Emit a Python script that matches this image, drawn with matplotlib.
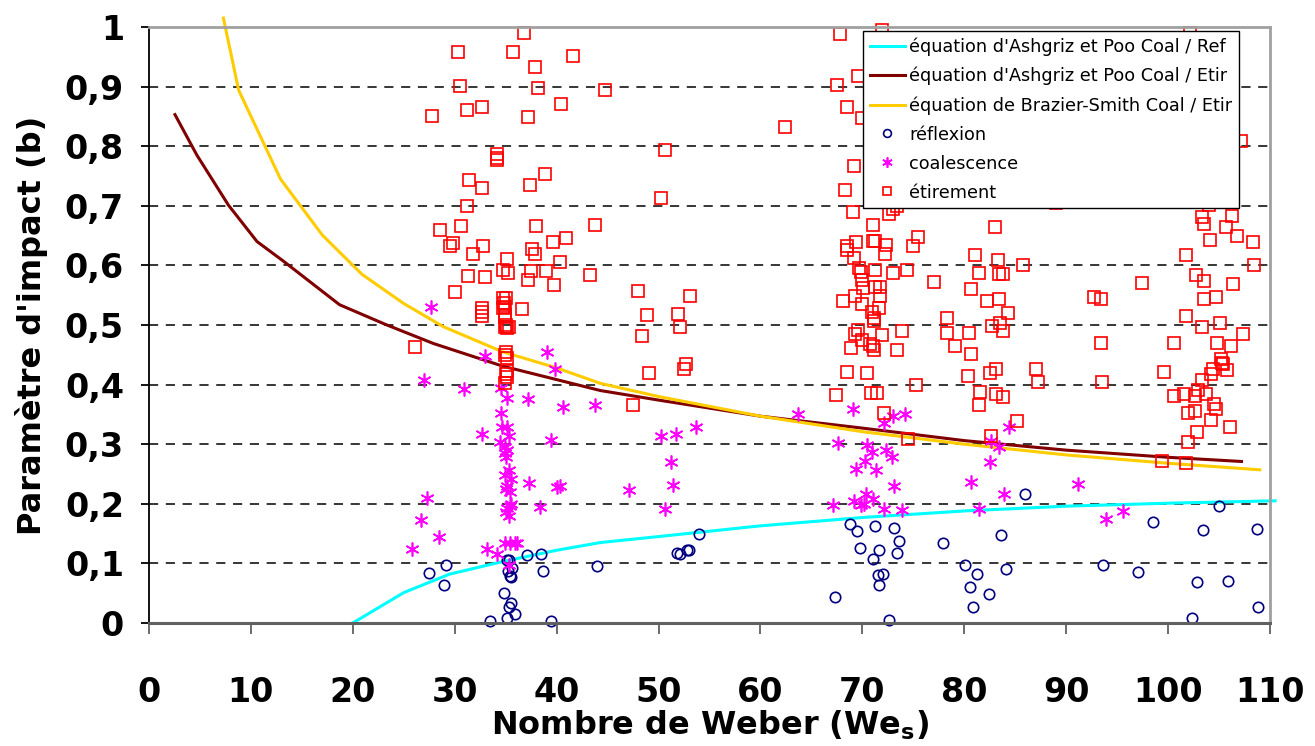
import numpy as np
import matplotlib.pyplot as plt
from matplotlib.ticker import FuncFormatter

# courbes
ref_we = [20, 25, 29.5, 34.7, 40, 44.3, 50, 60, 70, 80, 90, 100, 110.5]
ref_b = [0, 0.051, 0.082, 0.103, 0.122, 0.135, 0.145, 0.163, 0.177, 0.188, 0.196, 0.201, 0.205]

etir_we = [2.55, 4.7, 7.8, 10.6, 13.2, 18.7, 23.2, 27.9, 34.7, 44.3, 50, 60, 70, 80, 90, 100, 107.2]
etir_b = [0.853, 0.785, 0.701, 0.64, 0.607, 0.534, 0.501, 0.469, 0.431, 0.39, 0.374, 0.347, 0.327,
          0.306, 0.29, 0.278, 0.271]

brazier_we = [7.3, 8.8, 12.9, 17.0, 20.9, 25.0, 28.9, 34.7, 40, 44.3, 50, 60, 70, 80, 90, 100, 109]
brazier_b = [1.015, 0.894, 0.745, 0.651, 0.585, 0.536, 0.497, 0.455, 0.428, 0.402, 0.38, 0.347, 0.321,
             0.300, 0.282, 0.268, 0.257]

# points experimentaux (We, b)
reflexion = np.array([
    (27.5, 0.084), (29.1, 0.098), (28.9, 0.063), (33.5, 0.003), (34.8, 0.05), (35.1, 0.008), (35.3, 0.027),
    (35.5, 0.034), (35.9, 0.015), (35.1, 0.106), (35.3, 0.105), (35.6, 0.093), (35.2, 0.088), (35.4, 0.079),
    (35.5, 0.077), (37.1, 0.114), (38.5, 0.116), (38.7, 0.087), (39.4, 0.003), (44.0, 0.096),
    (51.8, 0.117), (52.1, 0.116), (52.8, 0.122), (53.0, 0.123), (54.0, 0.149),
    (67.3, 0.044), (68.8, 0.166), (69.5, 0.154), (69.8, 0.126), (71.0, 0.107), (71.2, 0.162), (71.5, 0.08),
    (71.6, 0.123), (71.6, 0.064), (72.0, 0.083), (72.6, 0.005), (73.1, 0.16), (73.4, 0.118), (73.6, 0.137),
    (77.9, 0.135), (80.1, 0.097), (80.6, 0.061), (80.9, 0.027), (81.2, 0.082), (82.4, 0.048), (83.6, 0.147),
    (84.1, 0.091), (86.0, 0.217), (93.6, 0.097), (97.0, 0.086), (98.5, 0.169), (102.3, 0.008), (102.8, 0.069),
    (103.4, 0.156), (105.0, 0.197), (105.9, 0.07), (108.7, 0.157), (108.8, 0.027)])

coalescence = np.array([
    (25.8, 0.124), (26.7, 0.173), (27.0, 0.407), (27.3, 0.21), (27.7, 0.531), (28.5, 0.144), (30.9, 0.393),
    (32.7, 0.317), (33.0, 0.448), (33.2, 0.124), (34.1, 0.115),
    (34.4, 0.304), (34.5, 0.394), (34.5, 0.353), (34.6, 0.329), (35.1, 0.329), (35.1, 0.378), (35.3, 0.313),
    (34.9, 0.296), (35.1, 0.29), (34.9, 0.285), (35.0, 0.278), (35.3, 0.257), (34.9, 0.248), (35.5, 0.241),
    (35.1, 0.23), (35.0, 0.224), (35.4, 0.219), (35.5, 0.2), (35.4, 0.197), (35.1, 0.193), (35.0, 0.187),
    (35.3, 0.18), (34.9, 0.135), (35.4, 0.135), (35.9, 0.135), (36.1, 0.135), (35.3, 0.097),
    (37.2, 0.375), (37.3, 0.235), (38.4, 0.195), (39.1, 0.454), (39.4, 0.307), (39.8, 0.427), (40.0, 0.228),
    (40.3, 0.23), (40.6, 0.363), (43.8, 0.365),
    (47.1, 0.223), (50.2, 0.314), (50.6, 0.191), (51.2, 0.27), (51.4, 0.232), (51.7, 0.317), (53.7, 0.329),
    (63.7, 0.35),
    (67.1, 0.198), (67.6, 0.302), (69.1, 0.359), (69.2, 0.204), (69.4, 0.258), (69.9, 0.198), (70.2, 0.199),
    (70.3, 0.272), (70.4, 0.216), (70.5, 0.299), (70.9, 0.287), (71.0, 0.208), (71.3, 0.256), (72.1, 0.336),
    (72.1, 0.191), (72.3, 0.29), (72.9, 0.279), (73.0, 0.348), (73.1, 0.23), (73.9, 0.19), (74.2, 0.35),
    (80.7, 0.237), (81.4, 0.191), (82.5, 0.27), (82.6, 0.306), (83.4, 0.295), (83.9, 0.216), (84.4, 0.329),
    (91.2, 0.234), (93.9, 0.174), (95.6, 0.188)])

etirement = np.array([
    (26.1, 0.463), (27.8, 0.851), (28.6, 0.659), (29.5, 0.633), (29.8, 0.637), (30.0, 0.555), (30.3, 0.958),
    (30.5, 0.901), (30.6, 0.666), (31.2, 0.86), (31.2, 0.7), (31.4, 0.744), (31.3, 0.583), (31.8, 0.619),
    (32.7, 0.866), (32.7, 0.73), (32.8, 0.633), (33.0, 0.581), (32.7, 0.528), (32.7, 0.521), (32.7, 0.515),
    (34.1, 0.787), (34.1, 0.781), (34.1, 0.777),
    (35.1, 0.611), (34.7, 0.592), (35.2, 0.588), (34.7, 0.545), (35.0, 0.545), (34.8, 0.537), (34.9, 0.531),
    (34.7, 0.528), (34.9, 0.517), (34.9, 0.514), (35.0, 0.5), (35.3, 0.497), (34.9, 0.497), (35.1, 0.495),
    (35.0, 0.455), (34.9, 0.449), (35.1, 0.444), (35.1, 0.423), (35.0, 0.417), (35.1, 0.413), (34.9, 0.403),
    (35.7, 0.958), (36.6, 0.526), (36.8, 0.99), (37.2, 0.849), (37.2, 0.575), (37.4, 0.735), (37.5, 0.59),
    (37.6, 0.627), (37.9, 0.933), (37.9, 0.619), (38.0, 0.666), (38.2, 0.898), (38.9, 0.753), (39.0, 0.591),
    (39.6, 0.639), (39.7, 0.567), (40.3, 0.605), (40.4, 0.87), (40.9, 0.646), (41.6, 0.952), (43.3, 0.584),
    (43.8, 0.668), (44.7, 0.894),
    (47.5, 0.365), (48.0, 0.557), (48.4, 0.482), (48.9, 0.517), (49.1, 0.42), (50.2, 0.713), (50.6, 0.794),
    (51.9, 0.518), (52.1, 0.496), (52.5, 0.427), (52.7, 0.435), (53.1, 0.549), (62.4, 0.832),
    (67.4, 0.382), (67.5, 0.903), (67.8, 0.989), (68.1, 0.541), (68.3, 0.727), (68.5, 0.865), (68.5, 0.633),
    (68.5, 0.626), (68.5, 0.421), (68.9, 0.462), (69.1, 0.69), (69.2, 0.766), (69.2, 0.613), (69.3, 0.549),
    (69.3, 0.485), (69.4, 0.639), (69.6, 0.918), (69.6, 0.492), (69.7, 0.596), (69.9, 0.589), (70.0, 0.575),
    (70.0, 0.848), (70.0, 0.536), (70.0, 0.475), (70.1, 0.562), (70.5, 0.42), (70.7, 0.468), (70.8, 0.386),
    (70.9, 0.522), (71.0, 0.667), (71.0, 0.641), (71.0, 0.464), (71.1, 0.956), (71.1, 0.715), (71.1, 0.507),
    (71.1, 0.458), (71.1, 0.512), (71.2, 0.641), (71.2, 0.593), (71.2, 0.563), (71.4, 0.386), (71.6, 0.528),
    (71.7, 0.563), (71.7, 0.549), (71.9, 0.995), (71.9, 0.483), (72.1, 0.353), (72.2, 0.619), (72.3, 0.635),
    (72.6, 0.686), (73.0, 0.695), (73.4, 0.7), (73.0, 0.587), (73.4, 0.458), (73.9, 0.49), (74.4, 0.592),
    (74.5, 0.308), (75.0, 0.633), (75.3, 0.399), (75.5, 0.647), (77.0, 0.572), (78.3, 0.512), (78.3, 0.487),
    (79.1, 0.465), (80.4, 0.414), (80.5, 0.487), (80.7, 0.56), (80.7, 0.452), (81.1, 0.617), (81.4, 0.587),
    (81.4, 0.365), (81.5, 0.387), (82.2, 0.54), (82.5, 0.419), (82.6, 0.313), (82.7, 0.499), (83.0, 0.665),
    (83.1, 0.427), (83.1, 0.385), (83.3, 0.609), (83.4, 0.586), (83.4, 0.543), (83.5, 0.503), (83.8, 0.586),
    (83.8, 0.49), (83.8, 0.38), (84.3, 0.52), (85.2, 0.339), (85.8, 0.601), (87.0, 0.426), (87.2, 0.405),
    (89.0, 0.704),
    (92.7, 0.547), (93.4, 0.543), (93.4, 0.469), (93.5, 0.404), (97.4, 0.57), (99.4, 0.272), (99.6, 0.421),
    (100.6, 0.469), (100.6, 0.381), (101.6, 0.384), (101.8, 0.617), (101.8, 0.515), (101.8, 0.269),
    (102.0, 0.353), (102.0, 0.303), (102.1, 0.99), (102.6, 0.381), (102.6, 0.355), (102.7, 0.584),
    (102.8, 0.32), (102.9, 0.391), (103.3, 0.681), (103.3, 0.496), (103.3, 0.407), (103.5, 0.669),
    (103.5, 0.574), (103.5, 0.543), (103.7, 0.384), (104.0, 0.701), (104.1, 0.642), (104.2, 0.418),
    (104.2, 0.341), (104.4, 0.426), (104.5, 0.367), (104.7, 0.547), (104.7, 0.359), (104.8, 0.47),
    (105.1, 0.503), (105.2, 0.443), (105.3, 0.437), (105.4, 0.435), (105.7, 0.665), (105.8, 0.424),
    (106.1, 0.329), (106.2, 0.464), (106.3, 0.683), (106.4, 0.569), (106.8, 0.649), (107.2, 0.808),
    (107.3, 0.485), (108.3, 0.639), (108.4, 0.601)])

fig = plt.figure(figsize=(13.15, 7.46), dpi=100)
ax = fig.add_axes([0.1133, 0.1649, 0.8525, 0.7989])

# courbes
ax.plot(ref_we, ref_b, color='#00FFFF', lw=2.2, label="équation d'Ashgriz et Poo Coal / Ref", clip_on=False)
ax.plot(etir_we, etir_b, color='#800000', lw=2.2, label="équation d'Ashgriz et Poo Coal / Etir", clip_on=False)
ax.plot(brazier_we, brazier_b, color='#FFCC00', lw=2.2, label="équation de Brazier-Smith Coal / Etir",
        clip_on=False)

# points
ax.plot(reflexion[:, 0], reflexion[:, 1], ls='none', marker='o', ms=7.5, mfc='none', mec='#000080',
        mew=1.2, label='réflexion', clip_on=False)
ax.plot(coalescence[:, 0], coalescence[:, 1], ls='none', marker=(6, 2, 0), ms=10, mec='#FF00FF',
        mew=1.2, label='coalescence', clip_on=False)
ax.plot(etirement[:, 0], etirement[:, 1], ls='none', marker='s', ms=8, mfc='none', mec='#FF0000',
        mew=1.2, label='étirement', clip_on=False)

ax.set_xlim(0, 110)
ax.set_ylim(0, 1)
ax.set_xticks(np.arange(0, 111, 10))
ax.set_yticks(np.arange(0, 1.01, 0.1))
ax.yaxis.set_major_formatter(FuncFormatter(lambda v, p: ('%.1f' % v).replace('.', ',').replace(',0', '')))

# grille horizontale en tirets
for yv in np.arange(0.1, 0.95, 0.1):
    ax.axhline(yv, color='black', lw=1.1, dashes=(6, 5), zorder=0)

for s in ['top', 'right']:
    ax.spines[s].set_color('#a0a0a0')
    ax.spines[s].set_linewidth(2)
ax.spines['left'].set_color('black')
ax.spines['left'].set_linewidth(1.3)
ax.spines['bottom'].set_color('#606060')
ax.spines['bottom'].set_linewidth(2.2)

ax.tick_params(axis='x', direction='out', length=8, width=1.3, color='#606060', pad=30, labelsize=24)
ax.tick_params(axis='y', direction='out', length=6, width=1.3, color='black', pad=12, labelsize=24)
for lab in ax.get_xticklabels() + ax.get_yticklabels():
    lab.set_fontweight('bold')

ax.set_xlabel('Nombre de Weber (We$_{\\mathbf{s}}$)', fontsize=23, fontweight='bold', labelpad=0)
ax.set_ylabel("Paramètre d'impact (b)", fontsize=23, fontweight='bold', labelpad=12)

leg = ax.legend(loc='upper right', bbox_to_anchor=(0.972, 0.993), borderaxespad=0, fontsize=12.7,
                frameon=True, fancybox=False, edgecolor='black', framealpha=1, handlelength=2.0,
                handletextpad=0.25, labelspacing=0.62, borderpad=0.35, markerscale=0.75)
leg.get_frame().set_linewidth(1.0)
leg.set_zorder(10)

fig.savefig('out.png', dpi=100)
